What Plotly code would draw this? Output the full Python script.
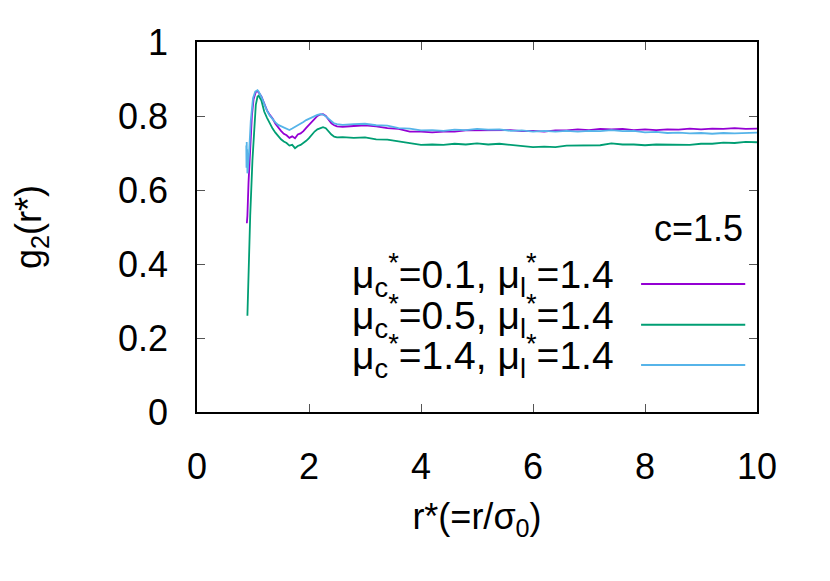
import plotly.graph_objects as go

# colours (gnuplot default palette)
PURPLE = "#9400D3"
GREEN = "#009E73"
CYAN = "#56B4E9"
FONT = "Liberation Sans, Arial, sans-serif"

# onset of each curve (near contact)
r_head_p = [0.89, 0.90, 0.92, 0.95, 0.98, 1.01, 1.05, 1.08]
g_head_p = [0.51, 0.53, 0.62, 0.73, 0.80, 0.845, 0.865, 0.867]
r_head_g = [0.90, 0.93, 0.95, 0.99, 1.02, 1.05, 1.08]
g_head_g = [0.26, 0.44, 0.53, 0.68, 0.76, 0.83, 0.852]
r_head_c = [0.88, 0.884, 0.888, 0.892, 0.896, 0.90, 0.93, 0.96, 1.00, 1.04, 1.08]
g_head_c = [0.72, 0.66, 0.73, 0.665, 0.71, 0.645, 0.70, 0.786, 0.848, 0.866, 0.870]

# oscillating part
r_body = [1.10, 1.15, 1.20, 1.25, 1.30, 1.35, 1.40, 1.45, 1.50, 1.55,
          1.60, 1.65, 1.70, 1.75, 1.80, 1.85, 1.90, 1.95, 2.00, 2.05,
          2.10, 2.15, 2.20, 2.25, 2.30, 2.35, 2.40, 2.45, 2.50]
g_body_c = [0.866, 0.852, 0.830, 0.814, 0.801, 0.791, 0.783, 0.776, 0.772, 0.768,
            0.764, 0.762, 0.766, 0.770, 0.775, 0.779, 0.784, 0.789, 0.793, 0.797,
            0.800, 0.803, 0.805, 0.804, 0.799, 0.792, 0.785, 0.780, 0.778]
g_body_p = [0.864, 0.853, 0.832, 0.815, 0.803, 0.793, 0.779, 0.768, 0.760, 0.752,
            0.748, 0.741, 0.745, 0.740, 0.750, 0.753, 0.759, 0.768, 0.776, 0.786,
            0.794, 0.800, 0.804, 0.805, 0.800, 0.790, 0.780, 0.775, 0.772]
g_body_g = [0.855, 0.842, 0.812, 0.795, 0.779, 0.766, 0.755, 0.745, 0.737, 0.731,
            0.727, 0.720, 0.722, 0.713, 0.719, 0.722, 0.727, 0.733, 0.740, 0.750,
            0.758, 0.764, 0.768, 0.770, 0.767, 0.758, 0.750, 0.744, 0.742]

# long-range tail
r_tail = [2.6, 2.8, 3.0, 3.2, 3.4, 3.6, 3.8, 4.0, 4.2, 4.4,
          4.6, 4.8, 5.0, 5.2, 5.4, 5.6, 5.8, 6.0, 6.2, 6.4,
          6.6, 6.8, 7.0, 7.2, 7.4, 7.6, 7.8, 8.0, 8.2, 8.4,
          8.6, 8.8, 9.0, 9.2, 9.4, 9.6, 9.8, 10.0]
g_tail_c = [0.776, 0.778, 0.779, 0.775, 0.774, 0.767, 0.766, 0.761, 0.762, 0.760,
            0.763, 0.762, 0.765, 0.763, 0.764, 0.760, 0.761, 0.758, 0.760, 0.758,
            0.760, 0.758, 0.760, 0.759, 0.762, 0.759, 0.760, 0.756, 0.757, 0.754,
            0.755, 0.753, 0.754, 0.752, 0.754, 0.753, 0.755, 0.755]
g_tail_p = [0.771, 0.774, 0.775, 0.772, 0.767, 0.765, 0.758, 0.758, 0.756, 0.758,
            0.758, 0.761, 0.761, 0.763, 0.761, 0.762, 0.759, 0.760, 0.758, 0.761,
            0.761, 0.764, 0.762, 0.765, 0.764, 0.765, 0.762, 0.764, 0.762, 0.764,
            0.763, 0.766, 0.764, 0.766, 0.765, 0.767, 0.765, 0.766]
g_tail_g = [0.743, 0.741, 0.742, 0.737, 0.736, 0.731, 0.728, 0.722, 0.723, 0.722,
            0.725, 0.723, 0.726, 0.723, 0.725, 0.722, 0.721, 0.716, 0.717, 0.716,
            0.720, 0.720, 0.722, 0.721, 0.726, 0.723, 0.723, 0.721, 0.723, 0.722,
            0.723, 0.722, 0.725, 0.725, 0.728, 0.727, 0.730, 0.729]

series = [
    ("μ<sub>c</sub><sup>*</sup>=0.1, μ<sub>l</sub><sup>*</sup>=1.4", PURPLE,
     r_head_p + r_body + r_tail, g_head_p + g_body_p + g_tail_p),
    ("μ<sub>c</sub><sup>*</sup>=0.5, μ<sub>l</sub><sup>*</sup>=1.4", GREEN,
     r_head_g + r_body + r_tail, g_head_g + g_body_g + g_tail_g),
    ("μ<sub>c</sub><sup>*</sup>=1.4, μ<sub>l</sub><sup>*</sup>=1.4", CYAN,
     r_head_c + r_body + r_tail, g_head_c + g_body_c + g_tail_c),
]

fig = go.Figure()
for name, col, xs, ys in series:
    fig.add_trace(go.Scatter(x=xs, y=ys, mode="lines", name=name,
                             line=dict(color=col, width=1.8), showlegend=False))

# hand-made legend, gnuplot style: text on the left, sample line on the right
legend_y = [0.346, 0.236, 0.127]
for (name, col, _, _), ly in zip(series, legend_y):
    fig.add_annotation(x=0.748, y=ly + 0.024, xref="paper", yref="paper",
                       text=name, showarrow=False, xanchor="right", yanchor="middle",
                       font=dict(size=39, color="black", family=FONT))
    fig.add_shape(type="line", xref="paper", yref="paper",
                  x0=0.793, x1=0.979, y0=ly, y1=ly,
                  line=dict(color=col, width=2))
fig.add_annotation(x=0.979, y=0.497, xref="paper", yref="paper", text="c=1.5",
                   showarrow=False, xanchor="right", yanchor="middle",
                   font=dict(size=36, color="black", family=FONT))

axis_style = dict(showline=True, linecolor="black", linewidth=1.5, mirror="ticks",
                  ticks="inside", ticklen=8, tickcolor="#555", tickwidth=1,
                  showgrid=False, zeroline=False,
                  tickfont=dict(size=36, color="black", family=FONT))

fig.update_xaxes(range=[0, 10], dtick=2, ticklabelstandoff=22,
                 title=dict(text="r*(=r/σ<sub>0</sub>)", standoff=18,
                            font=dict(size=36, color="black", family=FONT)),
                 **axis_style)
fig.update_yaxes(range=[0, 1], dtick=0.2, ticklabelstandoff=20,
                 title=dict(text="g<sub>2</sub>(r*)", standoff=70,
                            font=dict(size=36, color="black", family=FONT)),
                 **axis_style)

# page body adds 8px, so the plot box is shifted back to sit at the reference spot
fig.update_layout(width=830, height=581,
                  margin=dict(l=189, r=81, t=34, b=177),
                  plot_bgcolor="white", paper_bgcolor="white")

fig.write_html("out.html")
